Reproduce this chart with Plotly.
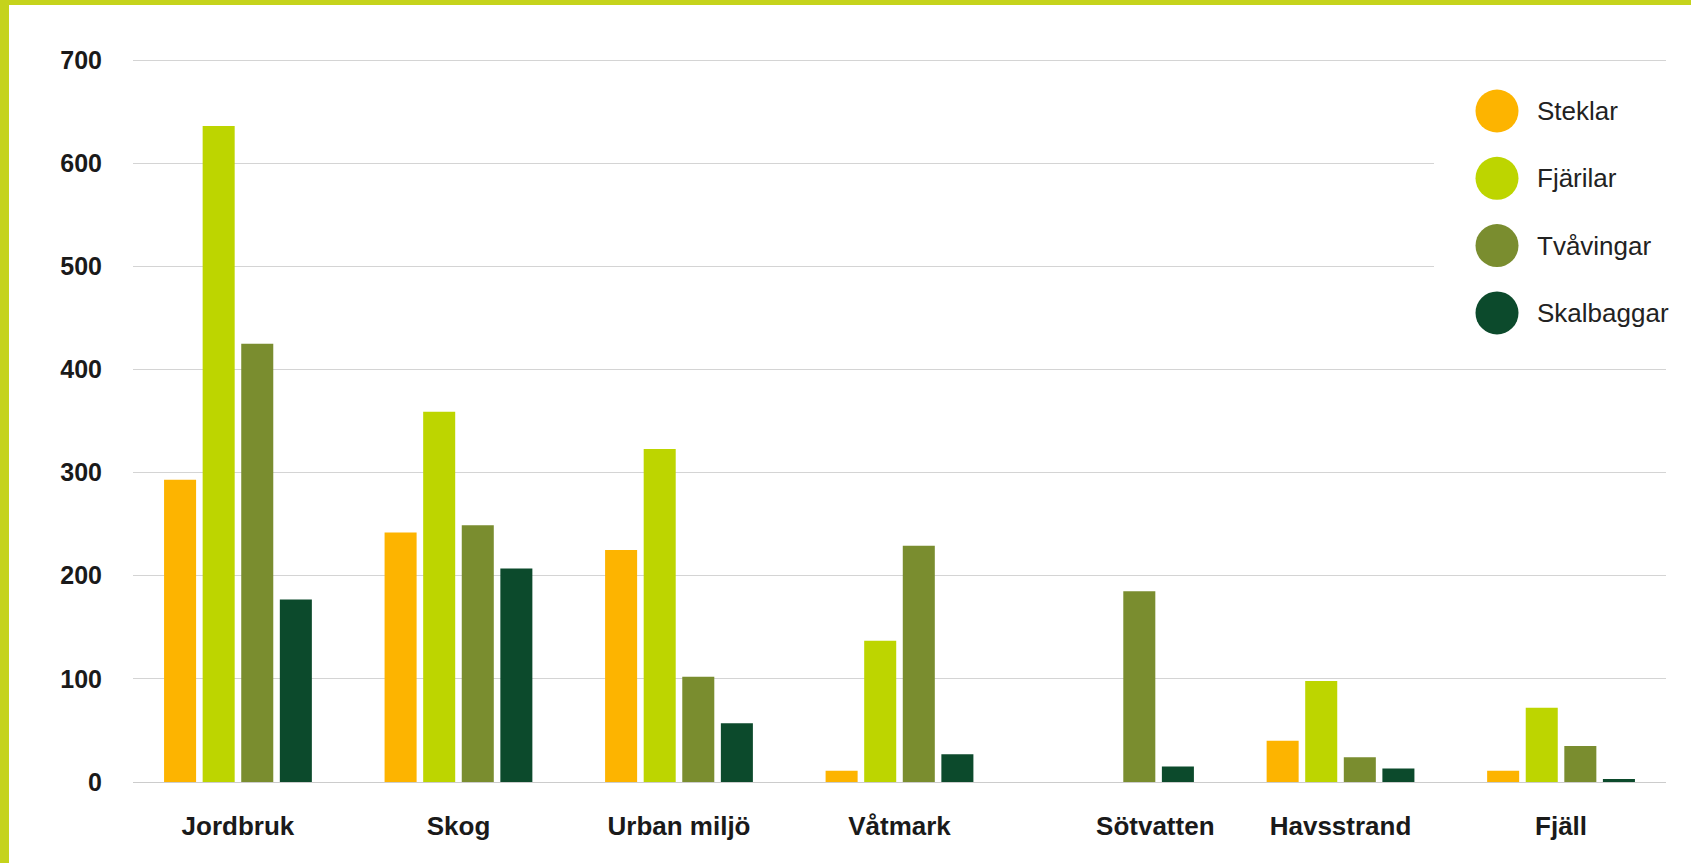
import plotly.graph_objects as go

categories = ["Jordbruk", "Skog", "Urban miljö", "Våtmark", "Sötvatten", "Havsstrand", "Fjäll"]
series_names = ["Steklar", "Fjärilar", "Tvåvingar", "Skalbaggar"]
steklar = [293, 242, 225, 11, 0, 40, 11]
fjarilar = [636, 359, 323, 137, 0, 98, 72]
tvavingar = [425, 249, 102, 229, 185, 24, 35]
skalbaggar = [177, 207, 57, 27, 15, 13, 3]
y_ticks = [0, 100, 200, 300, 400, 500, 600, 700]

series_values = [steklar, fjarilar, tvavingar, skalbaggar]
colors = ["#FDB400", "#BDD500", "#7A8D2F", "#0C4A2C"]
label_shift = [0, 0, 0, 0, 0.16, 0, 0]

W, H = 1691, 863
ML, MR, MT, MB = 133, 25, 58, 81
PW, PH = W - ML - MR, H - MT - MB


def px_x(px):
    return (px - ML) / PW


def px_y(py):
    return (H - MB - py) / PH


xs = list(range(len(categories)))
fig = go.Figure()
for name, vals, col in zip(series_names, series_values, colors):
    fig.add_trace(go.Bar(x=xs, y=vals, name=name, marker_color=col,
                         marker_line_width=0, showlegend=False))

FONT = "Liberation Sans, Arial, sans-serif"
shapes = [
    dict(type="rect", xref="paper", yref="paper", x0=px_x(1434), x1=1.05,
         y0=px_y(345), y1=px_y(80), fillcolor="white", line_width=0, layer="above"),
    dict(type="rect", xref="paper", yref="paper", x0=-0.2, x1=px_x(9),
         y0=-0.3, y1=1.3, fillcolor="#C5D31C", line_width=0, layer="above"),
    dict(type="rect", xref="paper", yref="paper", x0=-0.2, x1=1.2,
         y0=px_y(5), y1=1.3, fillcolor="#C5D31C", line_width=0, layer="above"),
]
annotations = []
for i, (name, col) in enumerate(zip(series_names, colors)):
    cy = px_y(111 + i * 67.3)
    shapes.append(dict(type="circle", xref="paper", yref="paper",
                       xsizemode="pixel", ysizemode="pixel",
                       xanchor=px_x(1497), yanchor=cy,
                       x0=-21.5, x1=21.5, y0=-21.5, y1=21.5,
                       fillcolor=col, line_width=0, layer="above"))
    annotations.append(dict(xref="paper", yref="paper", x=px_x(1535), y=cy,
                            text=name, showarrow=False, xanchor="left", yanchor="middle",
                            font=dict(family=FONT, size=26, color="#222222")))

fig.update_layout(
    width=W, height=H,
    margin=dict(l=ML, r=MR, t=MT, b=MB),
    paper_bgcolor="white", plot_bgcolor="white",
    barmode="group", bargap=0.30, bargroupgap=0.17,
    shapes=shapes, annotations=annotations,
    xaxis=dict(range=[-0.476, 6.476], tickvals=[i + s for i, s in zip(xs, label_shift)],
               ticktext=categories, showgrid=False, zeroline=False, showline=False,
               ticks="", ticklabelstandoff=26,
               tickfont=dict(family=FONT, size=26, color="#1a1a1a", weight="bold")),
    yaxis=dict(range=[0, 702], tickvals=y_ticks, showgrid=True, gridcolor="#d4d4d4",
               gridwidth=1, zeroline=True, zerolinecolor="#cccccc", zerolinewidth=1,
               showline=False, ticks="", ticklabelstandoff=30,
               tickfont=dict(family=FONT, size=25, color="#1a1a1a", weight="bold")),
    showlegend=False,
)

fig.write_html("out.html", config={"displayModeBar": False},
               post_script="document.body.style.margin='0';document.body.style.overflow='hidden';")
